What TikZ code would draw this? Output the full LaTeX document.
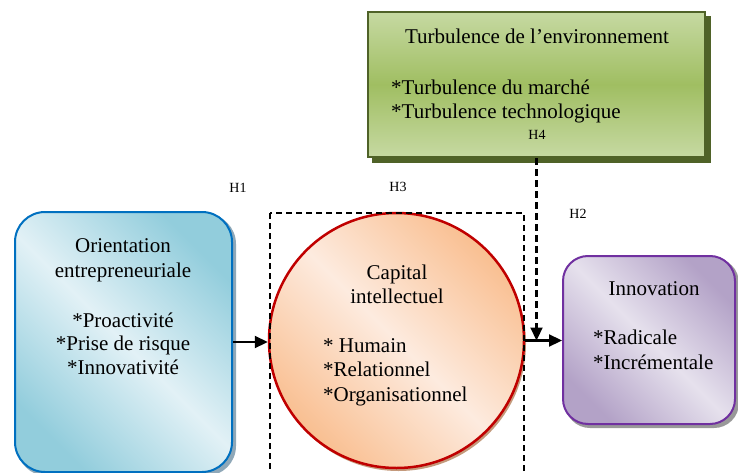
\documentclass[tikz,border=0pt]{standalone}
\usepackage{fontspec}
\setmainfont{Liberation Serif}
\usetikzlibrary{arrows.meta,backgrounds}
\definecolor{envborder}{HTML}{4F6228}
\definecolor{envlight}{HTML}{C6D9A2}
\definecolor{envmid}{HTML}{A0BE62}
\definecolor{blueborder}{HTML}{0070C0}
\definecolor{bluelight}{HTML}{E2F1F6}
\definecolor{bluedark}{HTML}{92CDDC}
\definecolor{blueshadow}{HTML}{8FA8B8}
\definecolor{redborder}{HTML}{C00000}
\definecolor{orlight}{HTML}{FDEBDF}
\definecolor{ordark}{HTML}{F9BF91}
\definecolor{orshadow}{HTML}{C49A7C}
\definecolor{purborder}{HTML}{7030A0}
\definecolor{purlight}{HTML}{E6E1ED}
\definecolor{purdark}{HTML}{B3A2C7}
\definecolor{purshadow}{HTML}{999999}
\tikzset{
  txt/.style={font=\fontsize{21}{24}\selectfont, inner sep=0pt},
  hlab/.style={font=\fontsize{14}{16}\selectfont, inner sep=0pt},
  envbox/.style={draw=envborder, line width=2.2pt, top color=envlight, bottom color=envlight, middle color=envmid,
    minimum width=337pt, minimum height=145pt, inner sep=0pt},
  oebox/.style={draw=blueborder, line width=2pt, rounded corners=30pt, top color=bluedark, bottom color=bluedark, middle color=bluelight,
    shading angle=-45, minimum width=217pt, minimum height=260pt, inner sep=0pt},
  cibox/.style={circle, draw=redborder, line width=2.5pt, top color=ordark, bottom color=ordark, middle color=orlight,
    shading angle=-45, minimum size=255pt, inner sep=0pt},
  innobox/.style={draw=purborder, line width=2pt, rounded corners=25pt, top color=purdark, bottom color=purdark, middle color=purlight,
    shading angle=-45, minimum width=172pt, minimum height=168pt, inner sep=0pt},
  arr/.style={line width=2.2pt, -{Triangle[length=13pt,width=12pt]}},
  dasharr/.style={line width=2.2pt, dash pattern=on 7pt off 4pt, -{Triangle[length=13pt,width=12pt]}},
  dashrect/.style={line width=1.5pt, dash pattern=on 6pt off 4pt},
}
\begin{document}
\begin{tikzpicture}[x=1pt,y=-1pt]
\clip (0,0) rectangle (738,473);

% main shapes
\node[envbox] (env) at (536.5,84.5) {};
\node[oebox] (oe) at (123.5,342) {};
\node[cibox] (ci) at (396.5,340.5) {};
\node[innobox] (inno) at (649,340) {};

% shadows
\begin{scope}[on background layer]
  \fill[white] (0,0) rectangle (738,473);
  \fill[envborder] ([shift={(5,5)}]env.north west) rectangle ([shift={(5,5)}]env.south east);
  \fill[blueshadow, rounded corners=30pt] ([shift={(3,3)}]oe.north west) rectangle ([shift={(3,3)}]oe.south east);
  \fill[orshadow] ([shift={(2,3)}]ci.center) circle (127.5);
  \fill[purshadow, rounded corners=25pt] ([shift={(3,3)}]inno.north west) rectangle ([shift={(3,3)}]inno.south east);
\end{scope}

% dashed frame around the intellectual capital
\coordinate (frTL) at (270,213);
\coordinate (frBR) at (524,490);
\draw[dashrect] (frTL) rectangle (frBR);

% texts
\node[txt, anchor=base] (t1) at (537,44) {Turbulence de l’environnement};
\node[txt, anchor=base west] (t2) at (391,95) {*Turbulence du marché};
\node[txt, anchor=base west] (t3) at (391,119) {*Turbulence technologique};
\node[hlab, anchor=base] (h4) at (537,140) {H4};

\node[txt, anchor=base] (o1) at (123,252) {Orientation};
\node[txt, anchor=base] (o2) at (123,277) {entrepreneuriale};
\node[txt, anchor=base] (o3) at (123,327) {*Proactivité};
\node[txt, anchor=base] (o4) at (123,350) {*Prise de risque};
\node[txt, anchor=base] (o5) at (123,374) {*Innovativité};

\node[txt, anchor=base] (c1) at (397,279) {Capital};
\node[txt, anchor=base] (c2) at (397,303) {intellectuel};
\node[txt, anchor=base west] (c3) at (323,352) {* Humain};
\node[txt, anchor=base west] (c4) at (323,376) {*Relationnel};
\node[txt, anchor=base west] (c5) at (323,401) {*Organisationnel};

\node[txt, anchor=base] (i1) at (654,295) {Innovation};
\node[txt, anchor=base west] (i2) at (593,344) {*Radicale};
\node[txt, anchor=base west] (i3) at (593,369) {*Incrémentale};

\node[hlab, anchor=base] (h1) at (238,192) {H1};
\node[hlab, anchor=base] (h3) at (398,191) {H3};
\node[hlab, anchor=base] (h2) at (578,218) {H2};

% connectors
\draw[arr] (oe.east) -- (oe.east -| ci.west);
\draw[arr] (ci.east) -- (ci.east -| inno.west);
\draw[dasharr] (env.south) -- (env.south |- ci.east);
\end{tikzpicture}
\end{document}
